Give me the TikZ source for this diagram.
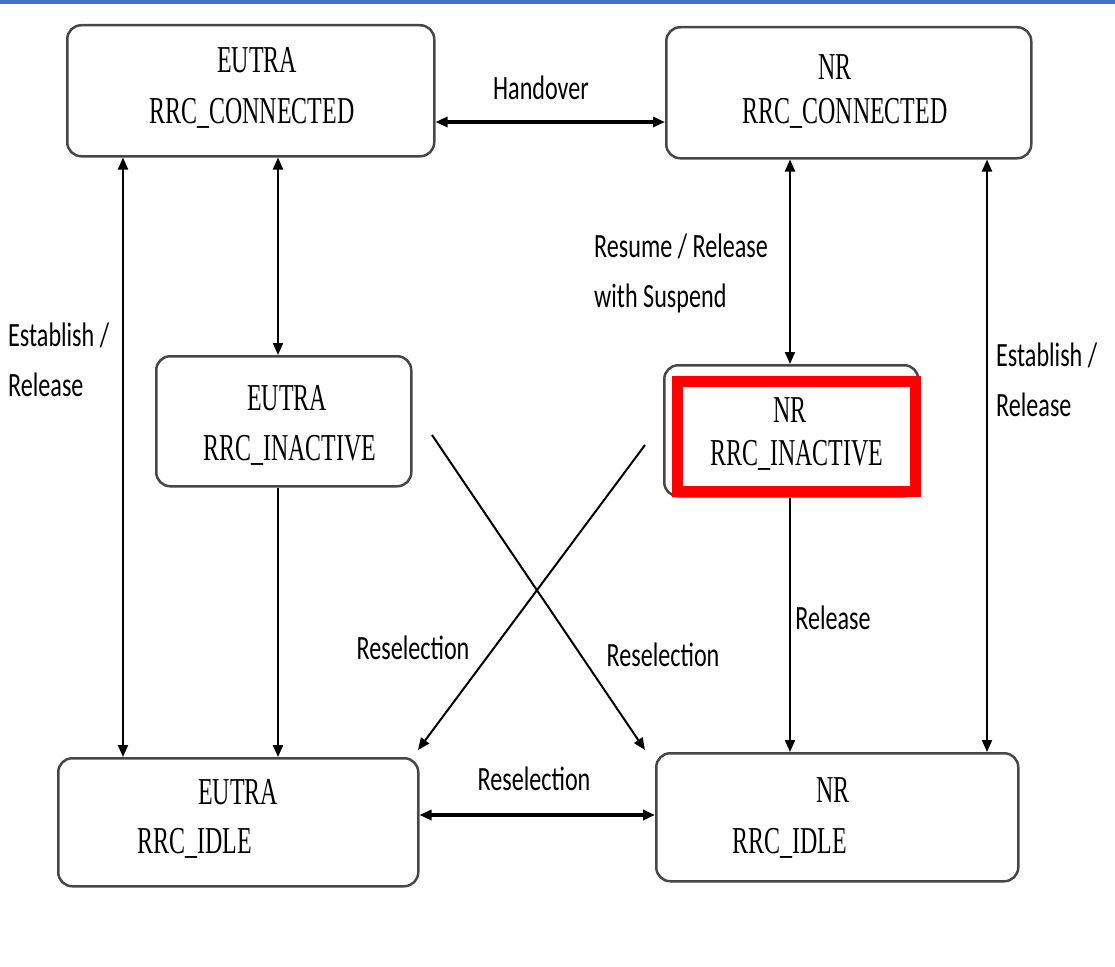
\documentclass[tikz,border=0pt]{standalone}
\usepackage{fontspec}
\usetikzlibrary{arrows.meta}
\newfontfamily\statefont{Liberation Serif}[FakeStretch=0.63]
\newfontfamily\labelfont{Carlito}[FakeStretch=0.71]
\definecolor{topbar}{RGB}{68,114,196}
\definecolor{hilite}{RGB}{255,0,0}

\begin{document}
\begin{tikzpicture}[x=1pt,y=-1pt,
        state/.style={draw=black!72, line width=2.5pt, rounded corners=14pt,
            fill=white, anchor=north west, inner sep=0pt},
        stxt/.style={font=\statefont\fontsize{38}{40}\selectfont, inner sep=0pt},
        lbl/.style={font=\labelfont\fontsize{34}{50}\selectfont, inner sep=0pt, align=left},
        tip/.style={-{Triangle[length=12pt,width=10pt]}, line width=2pt},
        dtip/.style={{Triangle[length=12pt,width=10pt]}-{Triangle[length=12pt,width=10pt]}, line width=2pt}]
    \useasboundingbox (0,0) rectangle (1115,966);
    \fill[topbar] (0,0) rectangle (1115,4);

    % states
    \node[state, minimum width=367, minimum height=131] (econn) at (66,24) {};
    \node[state, minimum width=365, minimum height=131] (nconn) at (665,26) {};
    \node[state, minimum width=255, minimum height=130] (einac) at (155,355) {};
    \node[state, minimum width=254, minimum height=131] (ninac) at (663,364) {};
    \node[state, minimum width=360, minimum height=128] (eidle) at (57,757) {};
    \node[state, minimum width=362, minimum height=128] (nidle) at (655,752) {};

    \node[stxt] (econn1) at (257,60) {EUTRA};
    \node[stxt] (econn2) at (252,113) {RRC\_CONNECTED};
    \node[stxt] (nconn1) at (835,67) {NR};
    \node[stxt] (nconn2) at (845,113) {RRC\_CONNECTED};
    \node[stxt] (einac1) at (287,398) {EUTRA};
    \node[stxt] (einac2) at (290,450) {RRC\_INACTIVE};
    \node[stxt] (ninac1) at (790,410) {NR};
    \node[stxt] (ninac2) at (797,455) {RRC\_INACTIVE};
    \node[stxt] (eidle1) at (238,792) {EUTRA};
    \node[stxt] (eidle2) at (195,843) {RRC\_IDLE};
    \node[stxt] (nidle1) at (833,790) {NR};
    \node[stxt] (nidle2) at (790,843) {RRC\_IDLE};

    % highlight
    \draw[hilite, line width=11pt] (677.5,381.5) rectangle (915.5,491.5);

    % transitions
    \coordinate (lx) at (123,0);
    \coordinate (ex) at (278,0);
    \coordinate (nx) at (790,0);
    \coordinate (rx) at (987,0);
    \coordinate (hy) at (0,122);
    \coordinate (by) at (0,815);

    \draw[dtip, line width=3.5pt] (econn.east |- hy) -- (nconn.west |- hy);
    \draw[dtip, line width=3.5pt] (eidle.east |- by) -- (nidle.west |- by);
    \draw[dtip] (econn.south -| lx) -- (eidle.north -| lx);
    \draw[dtip] (econn.south -| ex) -- (einac.north -| ex);
    \draw[tip] (einac.south -| ex) -- (eidle.north -| ex);
    \draw[dtip] (nconn.south -| nx) -- (ninac.north -| nx);
    \draw[tip] (ninac.south -| nx) -- (nidle.north -| nx);
    \draw[dtip] (nconn.south -| rx) -- (nidle.north -| rx);

    \coordinate (xa1) at (432,435);
    \coordinate (xa2) at (645,750);
    \coordinate (xb1) at (645,445);
    \coordinate (xb2) at (418,750);
    \draw[tip] (xa1) -- (xa2);
    \draw[tip] (xb1) -- (xb2);

    % labels
    \node[lbl] (hand) at (541,88) {Handover};
    \node[lbl, anchor=west] (estl) at (8,360) {Establish /\\Release};
    \node[lbl, anchor=west] (resume) at (594,273) {Resume / Release\\with Suspend};
    \node[lbl, anchor=west] (estr) at (996,380) {Establish /\\Release};
    \node[lbl] (rel) at (833,618) {Release};
    \node[lbl] (resl) at (413,648) {Reselection};
    \node[lbl] (resr) at (663,655) {Reselection};
    \node[lbl] (resb) at (534,779) {Reselection};
\end{tikzpicture}
\end{document}
